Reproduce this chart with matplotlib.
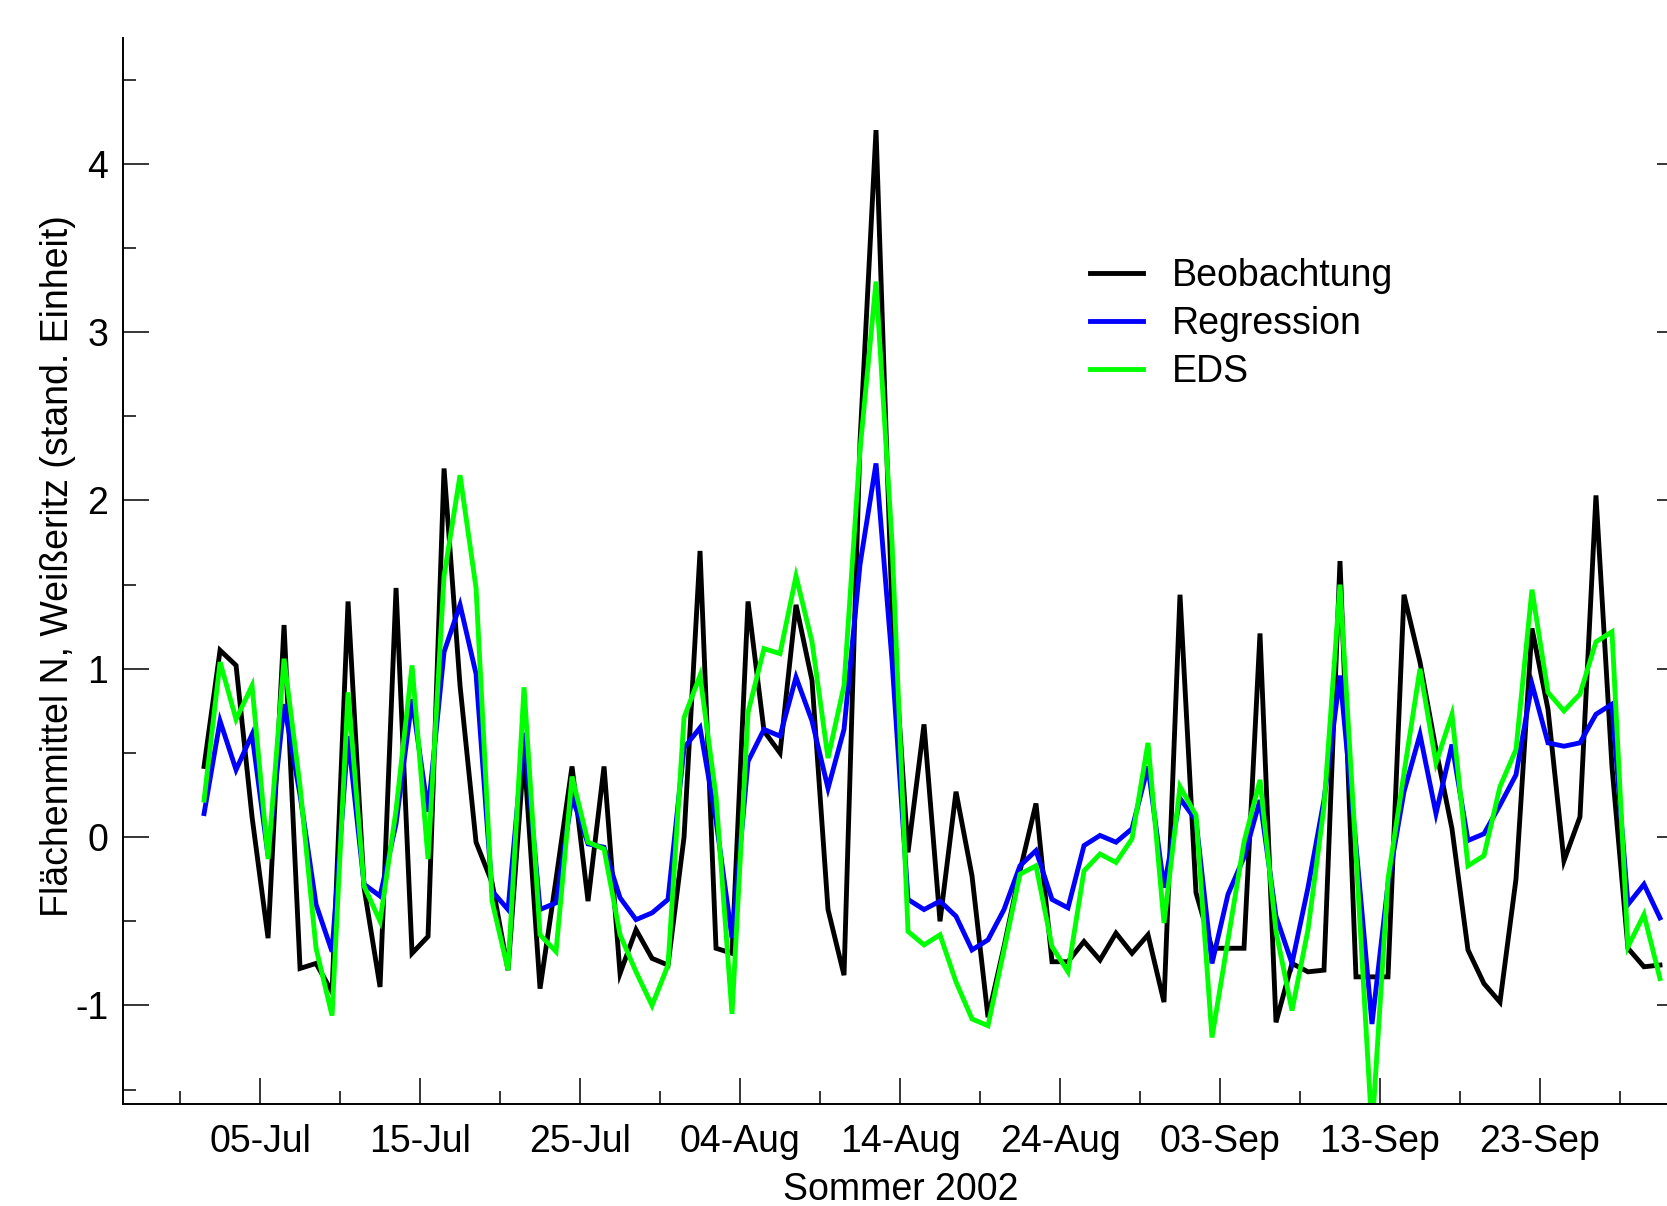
import numpy as np
import pandas as pd
import matplotlib as mpl
mpl.use('Agg')
import matplotlib.pyplot as plt
import matplotlib.dates as mdates
from matplotlib.ticker import FixedLocator, MultipleLocator, FormatStrFormatter

mpl.rcParams['font.family'] = ['Liberation Sans', 'DejaVu Sans']
mpl.rcParams['axes.unicode_minus'] = False
mpl.rcParams['xtick.direction'] = 'in'
mpl.rcParams['ytick.direction'] = 'in'

# daily values, 01 Jul - 30 Sep 2002 (standardised units)
beobachtung = [0.42, 1.11, 1.02, 0.12, -0.60, 1.26, -0.78, -0.75, -0.92, 1.40,
               -0.30, -0.89, 1.48, -0.69, -0.59, 2.19, 0.90, -0.03, -0.27, -0.79,
               0.50, -0.90, -0.25, 0.42, -0.38, 0.42, -0.81, -0.55, -0.72, -0.76,
               0.00, 1.70, -0.66, -0.69, 1.40, 0.63, 0.50, 1.38, 0.93, -0.43,
               -0.82, 2.35, 4.20, 1.35, -0.09, 0.67, -0.50, 0.27, -0.23, -1.07,
               -0.65, -0.20, 0.20, -0.74, -0.74, -0.62, -0.73, -0.57, -0.69, -0.58,
               -0.98, 1.44, -0.33, -0.66, -0.66, -0.66, 1.21, -1.10, -0.75, -0.80,
               -0.79, 1.64, -0.83, -0.83, -0.83, 1.44, 1.04, 0.52, 0.05, -0.67,
               -0.87, -0.98, -0.25, 1.24, 0.76, -0.14, 0.12, 2.03, 0.42, -0.66,
               -0.77, -0.76]
regression = [0.14, 0.69, 0.40, 0.61, -0.11, 0.79, 0.25, -0.40, -0.68, 0.60,
              -0.28, -0.35, 0.08, 0.82, 0.15, 1.10, 1.38, 0.97, -0.32, -0.43,
              0.62, -0.43, -0.39, 0.24, -0.04, -0.06, -0.36, -0.49, -0.45, -0.37,
              0.53, 0.65, 0.10, -0.60, 0.45, 0.64, 0.60, 0.95, 0.69, 0.29,
              0.64, 1.62, 2.22, 1.05, -0.37, -0.43, -0.38, -0.47, -0.67, -0.61,
              -0.43, -0.17, -0.08, -0.37, -0.42, -0.05, 0.01, -0.03, 0.05, 0.42,
              -0.30, 0.23, 0.10, -0.75, -0.34, -0.12, 0.22, -0.47, -0.75, -0.30,
              0.22, 0.96, -0.05, -1.11, -0.28, 0.27, 0.61, 0.14, 0.55, -0.02,
              0.02, 0.19, 0.37, 0.91, 0.56, 0.54, 0.56, 0.73, 0.79, -0.40,
              -0.28, -0.48]
eds = [0.22, 1.04, 0.70, 0.90, -0.13, 1.06, 0.30, -0.66, -1.06, 0.86,
       -0.29, -0.50, 0.16, 1.02, -0.13, 1.55, 2.15, 1.48, -0.38, -0.79,
       0.89, -0.58, -0.68, 0.36, -0.03, -0.07, -0.58, -0.80, -1.00, -0.76,
       0.71, 0.96, 0.24, -1.05, 0.74, 1.12, 1.09, 1.55, 1.16, 0.47,
       0.90, 2.30, 3.30, 1.75, -0.56, -0.64, -0.58, -0.86, -1.08, -1.12,
       -0.67, -0.22, -0.17, -0.65, -0.80, -0.20, -0.10, -0.15, -0.01, 0.56,
       -0.51, 0.30, 0.13, -1.19, -0.61, -0.03, 0.34, -0.56, -1.03, -0.55,
       0.18, 1.50, -0.10, -1.75, -0.25, 0.38, 1.00, 0.44, 0.73, -0.17,
       -0.11, 0.30, 0.52, 1.47, 0.86, 0.75, 0.85, 1.16, 1.22, -0.65,
       -0.46, -0.84]

dates = pd.date_range('2002-07-01', '2002-09-30', freq='D') + pd.Timedelta(hours=12)
major_days = pd.date_range('2002-07-05', '2002-09-30', freq='10D')
minor_days = pd.date_range('2002-06-30', '2002-10-05', freq='5D')

fig = plt.figure(figsize=(16.67, 12.06), dpi=100)
ax = fig.add_axes([0.0740, 0.0846, 0.9356, 0.8843])

ax.plot(dates, beobachtung, color='black', lw=3.5, solid_joinstyle='miter', label='Beobachtung')
ax.plot(dates, regression, color='#0000ff', lw=3.5, solid_joinstyle='miter', label='Regression')
ax.plot(dates, eds, color='#00ff00', lw=3.5, solid_joinstyle='miter', label='EDS')

t0 = pd.Timestamp('2002-07-01')
ax.set_xlim(t0 - pd.Timedelta(days=4.544), t0 + pd.Timedelta(days=92.94))
ax.set_ylim(-1.585, 4.75)

ax.xaxis.set_major_locator(FixedLocator(mdates.date2num(major_days)))
ax.xaxis.set_minor_locator(FixedLocator(mdates.date2num(minor_days)))
ax.xaxis.set_major_formatter(mdates.DateFormatter('%d-%b'))
ax.yaxis.set_major_locator(MultipleLocator(1))
ax.yaxis.set_minor_locator(MultipleLocator(0.5))
ax.yaxis.set_major_formatter(FormatStrFormatter('%d'))

ax.tick_params(which='both', top=False, right=True, width=1.1, labelsize=27)
ax.tick_params(axis='x', which='both', pad=14.6)
ax.tick_params(axis='y', which='both', pad=10.8)
ax.tick_params(which='major', length=18.7)
ax.tick_params(which='minor', length=9.4)
ax.spines['top'].set_visible(False)
for s in ['left', 'bottom', 'right']:
    ax.spines[s].set_linewidth(1.4)

ax.set_xlabel('Sommer 2002', fontsize=27, va='center')
ax.xaxis.set_label_coords(0.4986, -0.0805)
ax.set_ylabel('Flächenmittel N, Weißeritz (stand. Einheit)', fontsize=27, va='center')
ax.yaxis.set_label_coords(-0.0422, 0.504)

ax.legend(loc='upper left', bbox_to_anchor=(0.6539, 0.7857), bbox_transform=fig.transFigure,
          frameon=False, borderpad=0, borderaxespad=0, handlelength=1.41,
          handletextpad=0.78, labelspacing=0.32, fontsize=27)

fig.savefig('out.png', dpi=100)
